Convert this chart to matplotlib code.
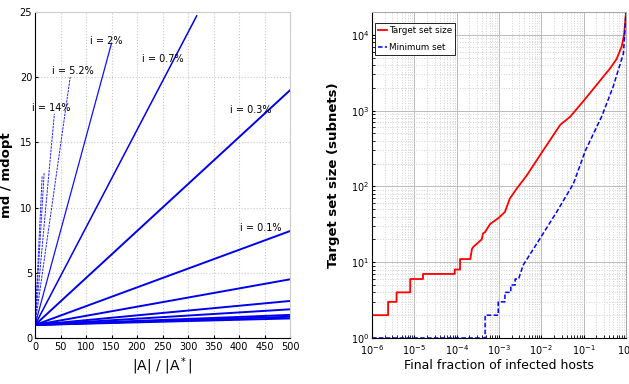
import numpy as np
import matplotlib
matplotlib.use("Agg")
import matplotlib.pyplot as plt
from matplotlib.ticker import LogLocator, NullFormatter

plt.rcParams['font.family'] = ['Liberation Sans Narrow', 'DejaVu Sans']
plt.rcParams['mathtext.fontset'] = 'custom'
plt.rcParams['mathtext.rm'] = 'Liberation Sans Narrow'
plt.rcParams['mathtext.it'] = 'Liberation Sans Narrow'

# left panel: md/mdopt vs |A|/|A*|, one line per infection rate
line_end_x = [14, 18, 38, 69, 150, 317, 500, 500, 500, 500, 500, 500, 500, 500]
line_end_y = [12.4, 12.7, 17.2, 20.0, 22.6, 24.7, 19.0, 8.2, 4.5, 2.84, 2.2, 1.77, 1.63, 1.5]
line_start_y = 1.0
rate_labels = ["i = 14%", "i = 5.2%", "i = 2%", "i = 0.7%", "i = 0.3%", "i = 0.1%"]
label_x = [31, 75, 140, 250, 423, 443]
label_y = [17.6, 20.5, 22.8, 21.4, 17.5, 8.4]

# right panel: target set size vs final infected fraction
red_x = [1e-6, 2.4e-6, 2.4e-6, 3.8e-6, 3.8e-6, 8e-6, 8e-6, 1.6e-5, 1.6e-5, 9e-5, 9e-5,
         1.2e-4, 1.2e-4, 2.1e-4, 2.3e-4, 2.5e-4, 3.9e-4, 4.2e-4, 4.7e-4, 6.2e-4, 9.6e-4,
         1.38e-3, 1.8e-3, 2.6e-3, 4.5e-3, 1.1e-2, 2.8e-2, 4.8e-2, 0.117, 0.29, 0.42,
         0.6, 0.79, 0.9, 1.0]
red_y = [2, 2, 3, 3, 4, 4, 6, 6, 7, 7, 8, 8, 11, 11, 15, 16, 20, 24, 25, 32, 38, 46, 69,
         93, 139, 297, 650, 830, 1500, 2800, 3600, 4800, 7000, 10000, 19500]
blue_x = [1e-6, 4.7e-4, 4.7e-4, 9.6e-4, 9.6e-4, 1.38e-3, 1.38e-3, 1.9e-3, 1.9e-3, 2.4e-3,
          2.4e-3, 2.9e-3, 3.7e-3, 9.3e-3, 0.023, 0.057, 0.11, 0.27, 0.5, 0.87, 1.0]
blue_y = [1, 1, 2, 2, 3, 3, 4, 4, 5, 5, 6, 6, 9.1, 20.5, 46, 108, 297, 850, 2090, 5700, 19500]

fig = plt.figure(figsize=(6.29, 3.84), dpi=100)

# ---- left
ax1 = fig.add_axes([35/629, 1-338/384, 255/629, 326/384])
for k in range(len(line_end_x)):
    xs = [0, line_end_x[k]]
    ys = [line_start_y, line_end_y[k]]
    if k < 4:
        ax1.plot(xs, ys, color='#2020ff', lw=0.7, dashes=(2.5, 1))
    elif k == 4:
        ax1.plot(xs, ys, color='#1010ff', lw=0.9)
    elif k == 5:
        ax1.plot(xs, ys, color='#0000ee', lw=1.1)
    else:
        ax1.plot(xs, ys, color='#0000ee', lw=1.4)
for t, x, y in zip(rate_labels, label_x, label_y):
    ax1.text(x, y, t, fontsize=7, ha='center', va='center')
ax1.set_xlim(0, 500)
ax1.set_ylim(0, 25)
ax1.set_xticks(np.arange(0, 501, 50))
ax1.set_yticks(np.arange(0, 26, 5))
ax1.grid(True, color='#c8c8c8', ls=':', lw=0.8)
ax1.tick_params(axis='x', labelsize=7, length=2, direction='in', pad=3)
ax1.tick_params(axis='y', labelsize=7, length=2, direction='in', pad=2)
ax1.spines['top'].set_color('#cccccc')
ax1.spines['right'].set_color('#cccccc')
ax1.set_xlabel(r'|A| / |A$^*$|', fontsize=10, labelpad=2)
ax1.set_ylabel('md / mdopt', fontsize=9.5, fontweight='bold', family='DejaVu Sans')
ax1.yaxis.set_label_coords(-0.085, 0.5)

# ---- right
ax2 = fig.add_axes([372/629, 1-338/384, 254/629, 326/384])
ax2.plot(red_x, red_y, color='#ff0000', lw=1.3, label='Target set size')
ax2.plot(blue_x, blue_y, color='#0000ff', lw=1.1, dashes=(3, 1.5), label='Minimum set', clip_on=False)
ax2.set_xscale('log')
ax2.set_yscale('log')
ax2.set_xlim(1e-6, 1)
ax2.set_ylim(1, 2e4)
ax2.xaxis.set_major_locator(LogLocator(base=10, numticks=10))
ax2.xaxis.set_minor_locator(LogLocator(base=10, subs=np.arange(2, 10), numticks=20))
ax2.xaxis.set_minor_formatter(NullFormatter())
ax2.yaxis.set_minor_formatter(NullFormatter())
ax2.grid(True, which='major', color='#bbbbbb', ls='-', lw=0.7)
ax2.grid(True, which='minor', color='#d0d0d0', ls=':', lw=0.7)
ax2.tick_params(axis='x', which='both', labelsize=7, direction='in', length=2, pad=4)
ax2.tick_params(axis='y', which='both', labelsize=7, direction='in', length=2, pad=2)
ax2.spines['top'].set_color('#aaaaaa')
ax2.spines['right'].set_color('#aaaaaa')
ax2.set_xlabel('Final fraction of infected hosts', fontsize=9, labelpad=1)
ax2.set_ylabel('Target set size (subnets)', fontsize=9.5, fontweight='bold', family='DejaVu Sans')
ax2.yaxis.set_label_coords(-0.125, 0.5)
leg = ax2.legend(loc='upper left', fontsize=6.3, handlelength=1.0, handletextpad=0.2,
                 borderpad=0.35, labelspacing=0.9, borderaxespad=0, fancybox=False,
                 framealpha=1, bbox_to_anchor=(0.012, 0.966))
leg.get_frame().set_edgecolor('black')
leg.get_frame().set_linewidth(0.6)

fig.savefig('out.png', dpi=100)
